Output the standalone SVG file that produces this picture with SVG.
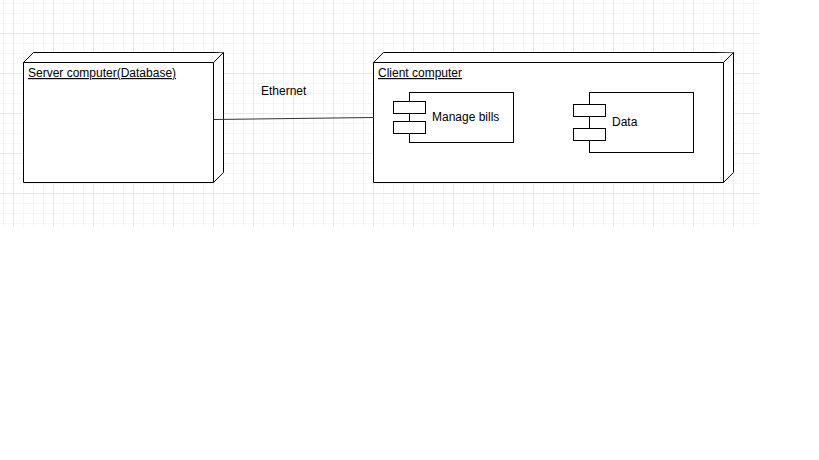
<svg xmlns="http://www.w3.org/2000/svg" width="819" height="460" viewBox="0 0 819 460">
<defs>
<pattern id="minor" x="3" y="3" width="10" height="10" patternUnits="userSpaceOnUse">
<path d="M0 0.5H10M0.5 0V10" fill="none" stroke="#f5f5f5" stroke-width="1"/>
</pattern>
<pattern id="major" x="13" y="33" width="40" height="40" patternUnits="userSpaceOnUse">
<path d="M0 0.5H40M0.5 0V40" fill="none" stroke="#e8e8e8" stroke-width="1"/>
</pattern>
</defs>
<style>
.shape{fill:#fff;stroke:#000;stroke-width:1}
.lbl{font-family:"Liberation Sans",Arial,sans-serif;font-size:12px;fill:#000}
.u{text-decoration:underline}
.edge{fill:none;stroke:#333;stroke-width:1}
</style>
<rect x="0" y="0" width="819" height="460" fill="#fff"/>
<rect x="0" y="0" width="760" height="227" fill="url(#minor)"/>
<rect x="0" y="0" width="760" height="227" fill="url(#major)"/>
<g id="server">
<path class="shape" d="M23.5 62.5L33.5 52.5H223.5V172.5L213.5 182.5H23.5Z"/>
<path class="shape" d="M23.5 62.5H213.5L223.5 52.5M213.5 62.5V182.5" fill="none"/>
<text class="lbl u" x="28" y="77">Server computer(Database)</text>
</g>
<g id="client">
<path class="shape" d="M373.5 62.5L383.5 52.5H733.5V172.5L723.5 182.5H373.5Z"/>
<path class="shape" d="M373.5 62.5H723.5L733.5 52.5M723.5 62.5V182.5" fill="none"/>
<text class="lbl u" x="378" y="77">Client computer</text>
</g>
<g id="manage-bills">
<rect class="shape" x="409.5" y="92.5" width="104" height="50"/>
<rect class="shape" x="393.5" y="101.5" width="32" height="12"/>
<rect class="shape" x="393.5" y="121.5" width="32" height="12"/>
<text class="lbl" x="432" y="121">Manage bills</text>
</g>
<g id="data">
<rect class="shape" x="589.5" y="92.5" width="104" height="60"/>
<rect class="shape" x="573.5" y="104.5" width="32" height="12"/>
<rect class="shape" x="573.5" y="128.5" width="32" height="12"/>
<text class="lbl" x="612" y="126">Data</text>
</g>
<g id="connectors">
<path class="edge" d="M213.5 119.5L373.5 117.5"/>
<text class="lbl" x="261" y="95">Ethernet</text>
</g>
</svg>
